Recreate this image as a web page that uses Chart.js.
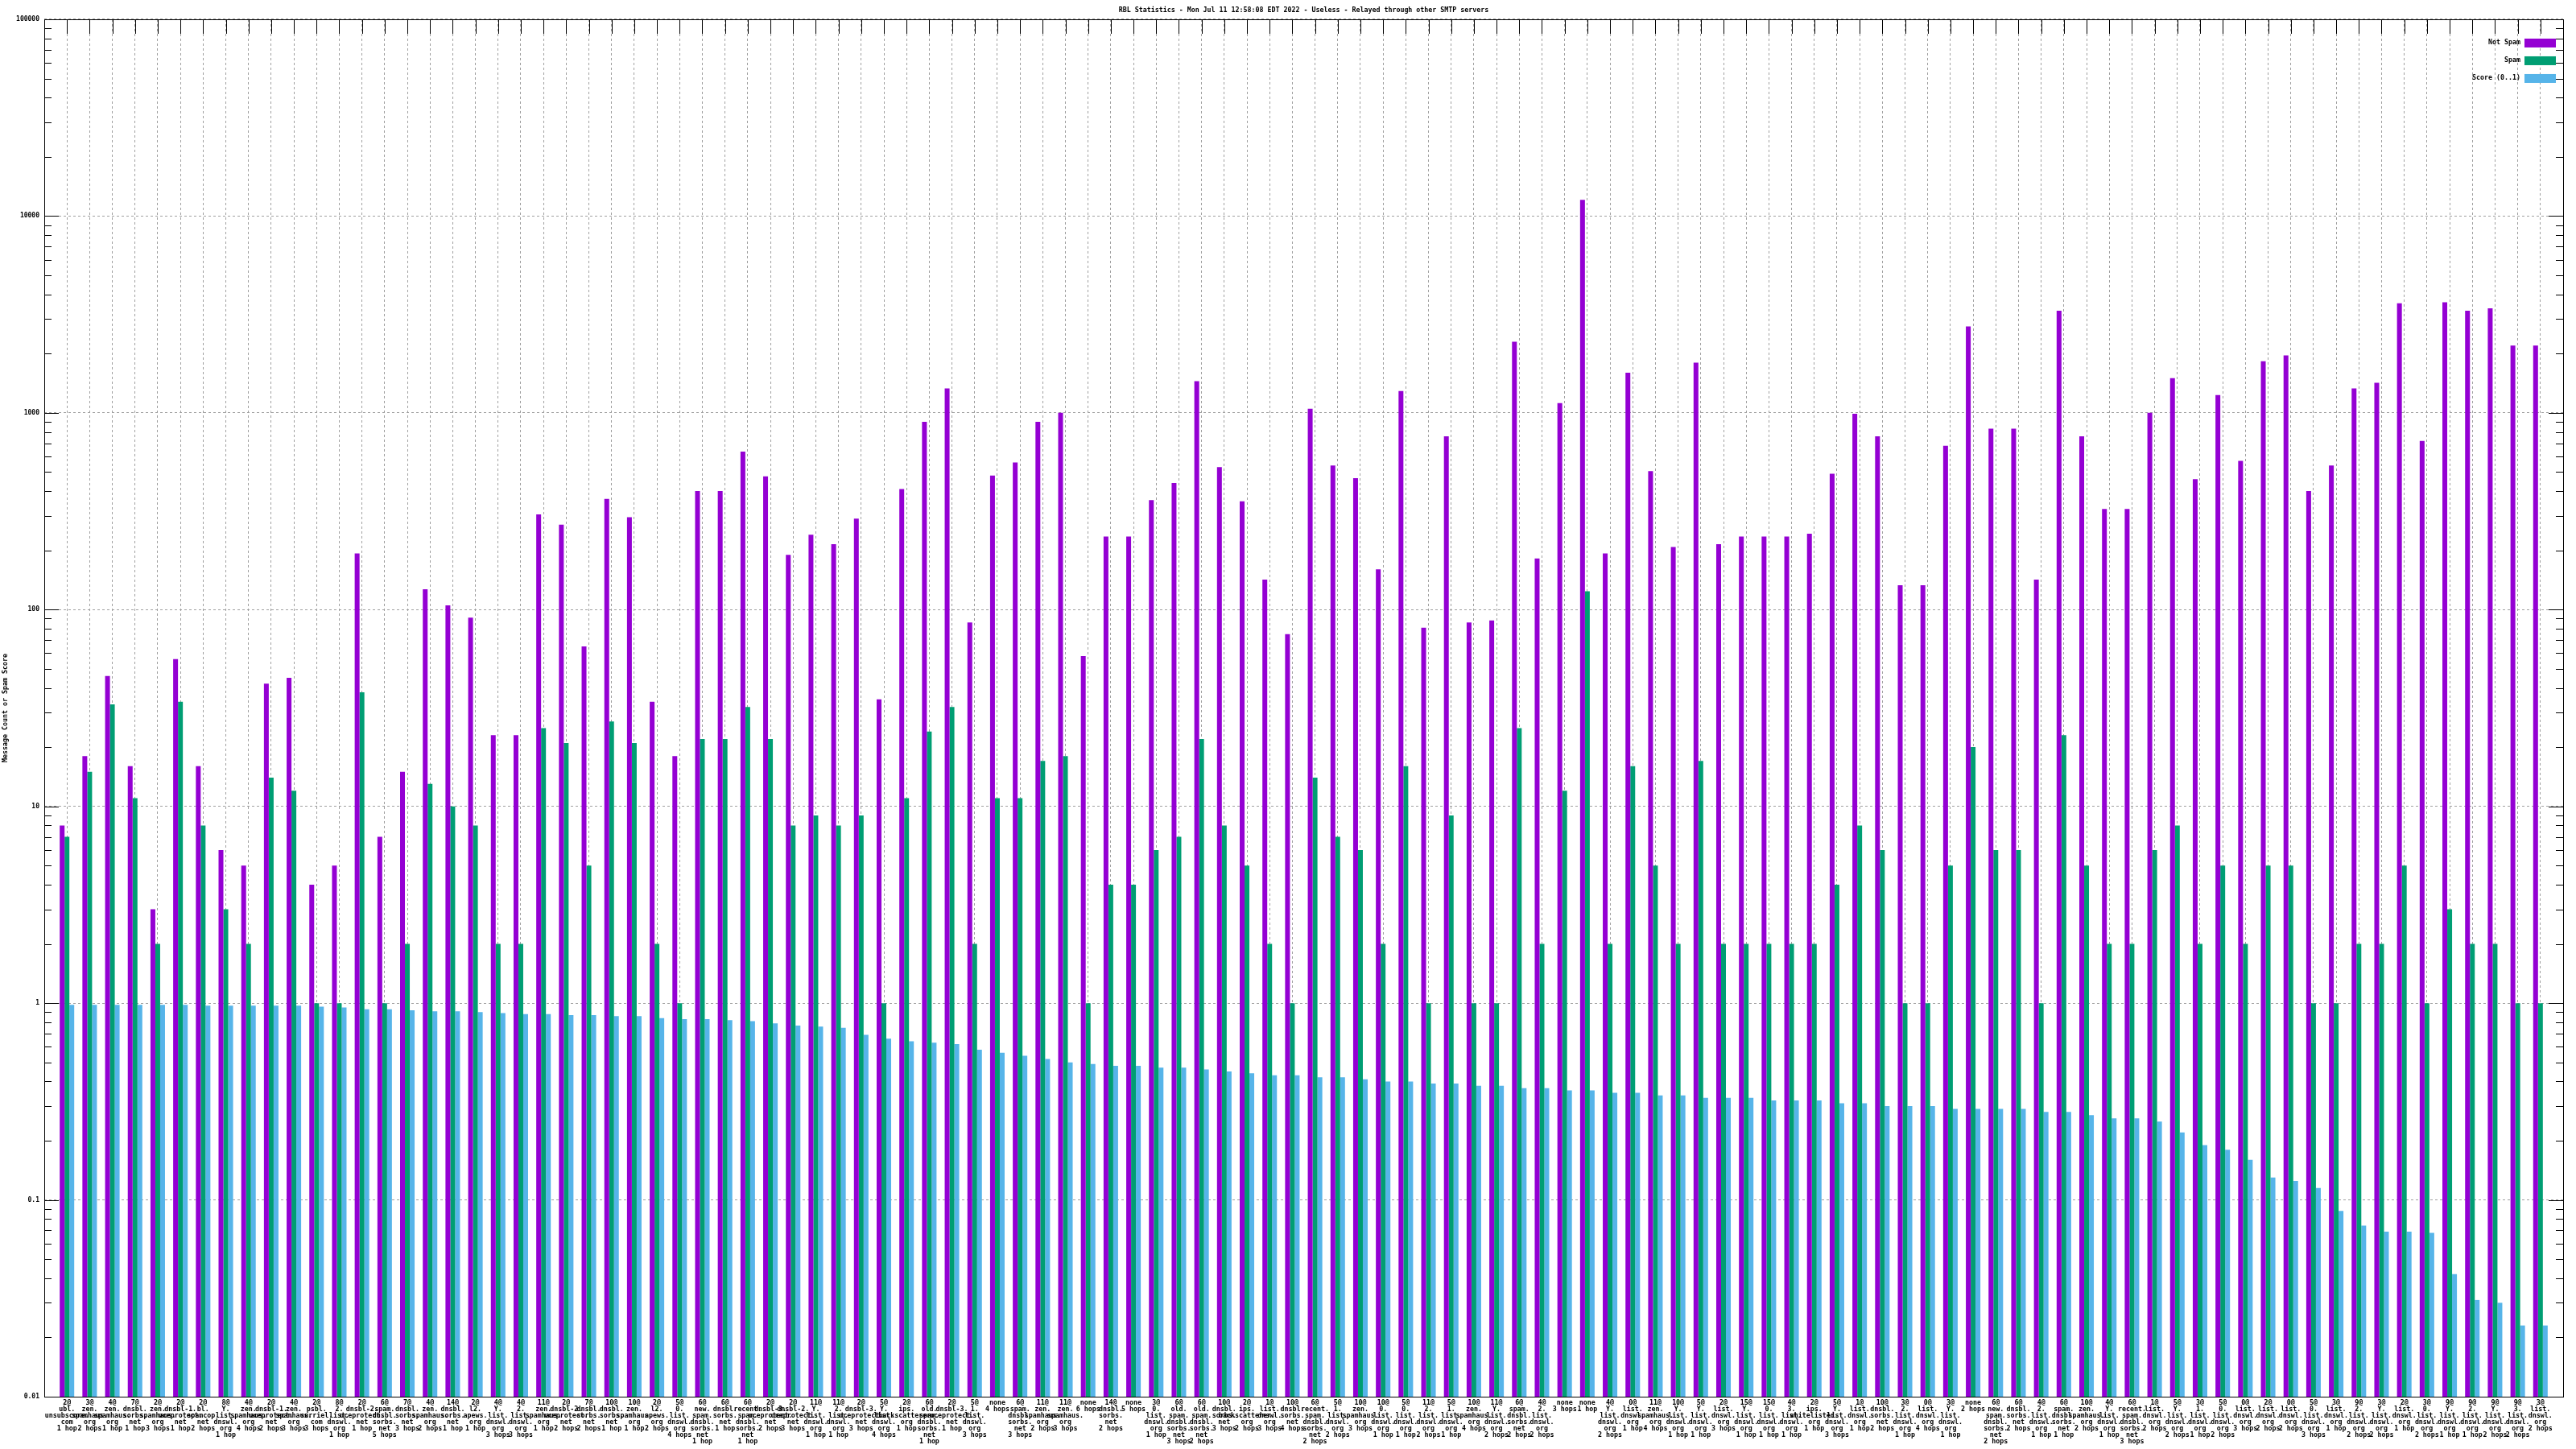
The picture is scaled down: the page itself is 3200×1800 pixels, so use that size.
<!DOCTYPE html>
<html>
<head>
<meta charset="utf-8">
<title>RBL Statistics</title>
<script src="https://cdn.jsdelivr.net/npm/chart.js@4/dist/chart.umd.min.js"></script>
<style>
  html, body { margin: 0; padding: 0; background: #fff; }
  #wrap { width: 3200px; height: 1800px; }
</style>
</head>
<body>
<div id="wrap"><canvas id="rbl-canvas" width="3200" height="1800"></canvas></div>
<script>
"use strict";

const chartTitle = "RBL Statistics - Mon Jul 11 12:58:08 EDT 2022 - Useless - Relayed through other SMTP servers";
const yAxisTitle = "Message Count or Spam Score";
const seriesNames = ["Not Spam", "Spam", "Score (0..1)"];
const seriesColors = ["#9400d3", "#009e73", "#56b4e9"];

const yTickValues = [0.01, 0.1, 1, 10, 100, 1000, 10000, 100000];
const yTickLabels = ["0.01", "0.1", "1", "10", "100", "1000", "10000", "100000"];

// one entry per cluster, lines separated by \n
const categories = [
    "2@\nubl.\nunsubscore.\ncom\n1 hop", "3@\nzen.\nspamhaus.\norg\n2 hops", "4@\nzen.\nspamhaus.\norg\n1 hop",
    "7@\ndnsbl.\nsorbs.\nnet\n1 hop", "2@\nzen.\nspamhaus.\norg\n3 hops", "2@\ndnsbl-1.\nuceprotect.\nnet\n1 hop",
    "2@\nbl.\nspamcop.\nnet\n2 hops", "8@\nY.\nlist.\ndnswl.\norg\n1 hop", "4@\nzen.\nspamhaus.\norg\n4 hops",
    "2@\ndnsbl-1.\nuceprotect.\nnet\n2 hops", "4@\nzen.\nspamhaus.\norg\n3 hops", "2@\npsbl.\nsurriel.\ncom\n3 hops",
    "8@\n2.\nlist.\ndnswl.\norg\n1 hop", "2@\ndnsbl-2.\nuceprotect.\nnet\n1 hop", "6@\nspam.\ndnsbl.\nsorbs.\nnet\n5 hops",
    "7@\ndnsbl.\nsorbs.\nnet\n3 hops", "4@\nzen.\nspamhaus.\norg\n2 hops", "14@\ndnsbl.\nsorbs.\nnet\n1 hop",
    "2@\nl2.\napews.\norg\n1 hop", "4@\nY.\nlist.\ndnswl.\norg\n3 hops", "4@\n2.\nlist.\ndnswl.\norg\n3 hops",
    "11@\nzen.\nspamhaus.\norg\n1 hop", "2@\ndnsbl-2.\nuceprotect.\nnet\n2 hops", "7@\ndnsbl.\nsorbs.\nnet\n2 hops",
    "10@\ndnsbl.\nsorbs.\nnet\n1 hop", "10@\nzen.\nspamhaus.\norg\n1 hop", "2@\nl2.\napews.\norg\n2 hops",
    "5@\n0.\nlist.\ndnswl.\norg\n4 hops", "6@\nnew.\nspam.\ndnsbl.\nsorbs.\nnet\n1 hop", "6@\ndnsbl.\nsorbs.\nnet\n1 hop",
    "6@\nrecent.\nspam.\ndnsbl.\nsorbs.\nnet\n1 hop", "2@\ndnsbl-3.\nuceprotect.\nnet\n2 hops", "2@\ndnsbl-2.\nuceprotect.\nnet\n3 hops",
    "11@\nY.\nlist.\ndnswl.\norg\n1 hop", "11@\n2.\nlist.\ndnswl.\norg\n1 hop", "2@\ndnsbl-3.\nuceprotect.\nnet\n3 hops",
    "5@\nY.\nlist.\ndnswl.\norg\n4 hops", "2@\nips.\nbackscatterer.\norg\n1 hop", "6@\nold.\nspam.\ndnsbl.\nsorbs.\nnet\n1 hop",
    "2@\ndnsbl-3.\nuceprotect.\nnet\n1 hop", "5@\n1.\nlist.\ndnswl.\norg\n3 hops", "none\n4 hops",
    "6@\nspam.\ndnsbl.\nsorbs.\nnet\n3 hops", "11@\nzen.\nspamhaus.\norg\n2 hops", "11@\nzen.\nspamhaus.\norg\n3 hops",
    "none\n6 hops", "14@\ndnsbl.\nsorbs.\nnet\n2 hops", "none\n5 hops",
    "3@\n0.\nlist.\ndnswl.\norg\n1 hop", "6@\nold.\nspam.\ndnsbl.\nsorbs.\nnet\n3 hops", "6@\nold.\nspam.\ndnsbl.\nsorbs.\nnet\n2 hops",
    "10@\ndnsbl.\nsorbs.\nnet\n3 hops", "2@\nips.\nbackscatterer.\norg\n2 hops", "1@\nlist.\ndnswl.\norg\n3 hops",
    "10@\ndnsbl.\nsorbs.\nnet\n4 hops", "6@\nrecent.\nspam.\ndnsbl.\nsorbs.\nnet\n2 hops", "5@\n1.\nlist.\ndnswl.\norg\n2 hops",
    "10@\nzen.\nspamhaus.\norg\n3 hops", "10@\n0.\nlist.\ndnswl.\norg\n1 hop", "5@\n0.\nlist.\ndnswl.\norg\n1 hop",
    "11@\n2.\nlist.\ndnswl.\norg\n2 hops", "5@\n1.\nlist.\ndnswl.\norg\n1 hop", "10@\nzen.\nspamhaus.\norg\n4 hops",
    "11@\nY.\nlist.\ndnswl.\norg\n2 hops", "6@\nspam.\ndnsbl.\nsorbs.\nnet\n2 hops", "4@\n2.\nlist.\ndnswl.\norg\n2 hops",
    "none\n3 hops", "none\n1 hop", "4@\nY.\nlist.\ndnswl.\norg\n2 hops",
    "0@\nlist.\ndnswl.\norg\n1 hop", "11@\nzen.\nspamhaus.\norg\n4 hops", "10@\nY.\nlist.\ndnswl.\norg\n1 hop",
    "5@\nY.\nlist.\ndnswl.\norg\n1 hop", "2@\nlist.\ndnswl.\norg\n3 hops", "15@\nY.\nlist.\ndnswl.\norg\n1 hop",
    "15@\n0.\nlist.\ndnswl.\norg\n1 hop", "4@\n3.\nlist.\ndnswl.\norg\n1 hop", "2@\nips.\nwhitelisted.\norg\n1 hop",
    "5@\nY.\nlist.\ndnswl.\norg\n3 hops", "1@\nlist.\ndnswl.\norg\n1 hop", "10@\ndnsbl.\nsorbs.\nnet\n2 hops",
    "3@\n2.\nlist.\ndnswl.\norg\n1 hop", "0@\nlist.\ndnswl.\norg\n4 hops", "3@\nY.\nlist.\ndnswl.\norg\n1 hop",
    "none\n2 hops", "6@\nnew.\nspam.\ndnsbl.\nsorbs.\nnet\n2 hops", "6@\ndnsbl.\nsorbs.\nnet\n2 hops",
    "4@\n2.\nlist.\ndnswl.\norg\n1 hop", "6@\nspam.\ndnsbl.\nsorbs.\nnet\n1 hop", "10@\nzen.\nspamhaus.\norg\n2 hops",
    "4@\nY.\nlist.\ndnswl.\norg\n1 hop", "6@\nrecent.\nspam.\ndnsbl.\nsorbs.\nnet\n3 hops", "1@\nlist.\ndnswl.\norg\n2 hops",
    "5@\nY.\nlist.\ndnswl.\norg\n2 hops", "3@\n1.\nlist.\ndnswl.\norg\n1 hop", "5@\n0.\nlist.\ndnswl.\norg\n2 hops",
    "0@\nlist.\ndnswl.\norg\n3 hops", "2@\nlist.\ndnswl.\norg\n2 hops", "0@\nlist.\ndnswl.\norg\n2 hops",
    "5@\n0.\nlist.\ndnswl.\norg\n3 hops", "3@\nlist.\ndnswl.\norg\n1 hop", "9@\n2.\nlist.\ndnswl.\norg\n2 hops",
    "3@\nY.\nlist.\ndnswl.\norg\n2 hops", "2@\nlist.\ndnswl.\norg\n1 hop", "3@\n0.\nlist.\ndnswl.\norg\n2 hops",
    "9@\nY.\nlist.\ndnswl.\norg\n1 hop", "9@\n2.\nlist.\ndnswl.\norg\n1 hop", "9@\nY.\nlist.\ndnswl.\norg\n2 hops",
    "9@\n3.\nlist.\ndnswl.\norg\n2 hops", "3@\nlist.\ndnswl.\norg\n2 hops"
];

const notSpam = [
    8, 18, 46, 16, 3, 56, 16, 6, 5, 42, 45, 4, 5, 193, 7, 15, 127, 105, 91, 23,
    23, 305, 270, 65, 365, 295, 34, 18, 400, 400, 635, 475, 190, 240, 215, 290, 35, 410, 900, 1330,
    86, 480, 560, 900, 1000, 58, 235, 235, 360, 440, 1450, 530, 355, 142, 75, 1050, 540, 465, 160, 1290,
    81, 760, 86, 88, 2300, 182, 1120, 12100, 193, 1600, 505, 208, 1800, 215, 235, 235, 235, 243, 490, 990,
    760, 133, 133, 680, 2750, 830, 830, 142, 3300, 760, 325, 325, 1000, 1500, 460, 1230, 570, 1830, 1960, 400,
    540, 1330, 1420, 3600, 720, 3650, 3300, 3400, 2200, 2200
];

const spam = [
    7, 15, 33, 11, 2, 34, 8, 3, 2, 14, 12, 1, 1, 38, 1, 2, 13, 10, 8, 2,
    2, 25, 21, 5, 27, 21, 2, 1, 22, 22, 32, 22, 8, 9, 8, 9, 1, 11, 24, 32,
    2, 11, 11, 17, 18, 1, 4, 4, 6, 7, 22, 8, 5, 2, 1, 14, 7, 6, 2, 16,
    1, 9, 1, 1, 25, 2, 12, 124, 2, 16, 5, 2, 17, 2, 2, 2, 2, 2, 4, 8,
    6, 1, 1, 5, 20, 6, 6, 1, 23, 5, 2, 2, 6, 8, 2, 5, 2, 5, 5, 1,
    1, 2, 2, 5, 1, 3, 2, 2, 1, 1
];

const score = [
    0.98, 0.98, 0.98, 0.98, 0.98, 0.98, 0.97, 0.97, 0.97, 0.97, 0.97, 0.96, 0.95, 0.93, 0.93, 0.92, 0.91, 0.91, 0.90, 0.89,
    0.88, 0.88, 0.87, 0.87, 0.86, 0.86, 0.84, 0.83, 0.83, 0.82, 0.81, 0.79, 0.77, 0.76, 0.75, 0.69, 0.66, 0.64, 0.63, 0.62,
    0.58, 0.56, 0.54, 0.52, 0.50, 0.49, 0.48, 0.48, 0.47, 0.47, 0.46, 0.45, 0.44, 0.43, 0.43, 0.42, 0.42, 0.41, 0.40, 0.40,
    0.39, 0.39, 0.38, 0.38, 0.37, 0.37, 0.36, 0.36, 0.35, 0.35, 0.34, 0.34, 0.33, 0.33, 0.33, 0.32, 0.32, 0.32, 0.31, 0.31,
    0.30, 0.30, 0.30, 0.29, 0.29, 0.29, 0.29, 0.28, 0.28, 0.27, 0.26, 0.26, 0.25, 0.22, 0.19, 0.18, 0.16, 0.13, 0.125, 0.115,
    0.088, 0.074, 0.069, 0.069, 0.068, 0.042, 0.031, 0.030, 0.023, 0.023
];

const FONT = "'DejaVu Sans Mono', monospace";

// gnuplot-ish frame: border, inward tics, legend inside the top right corner
const gnuplotFrame = {
    id: "gnuplotFrame",
    beforeDatasetsDraw(chart) {
        const {ctx, chartArea: a, scales: {x, y}} = chart;
        ctx.save();
        ctx.strokeStyle = "#000";
        ctx.lineWidth = 1;
        ctx.beginPath();
        x.ticks.forEach(t => {
            const px = Math.round(x.getPixelForValue(t.value)) + 0.5;
            ctx.moveTo(px, a.top); ctx.lineTo(px, a.top + 18);
            ctx.moveTo(px, a.bottom); ctx.lineTo(px, a.bottom - 18);
        });
        for (let e = -2; e <= 5; e++) {
            for (let m = 1; m <= 9; m++) {
                const v = m * Math.pow(10, e);
                if (v > 100000) break;
                const py = Math.round(y.getPixelForValue(v)) + 0.5;
                const len = m === 1 ? 18 : 9;
                ctx.moveTo(a.left, py); ctx.lineTo(a.left + len, py);
                ctx.moveTo(a.right, py); ctx.lineTo(a.right - len, py);
            }
        }
        ctx.stroke();
        ctx.restore();
    },
    afterDraw(chart) {
        const {ctx, chartArea: a} = chart;
        ctx.save();
        ctx.strokeStyle = "#000";
        ctx.lineWidth = 1;
        ctx.strokeRect(Math.round(a.left) + 0.5, Math.round(a.top) + 0.5,
            Math.round(a.right - a.left), Math.round(a.bottom - a.top));

        ctx.font = "bold 8.3px " + FONT;
        ctx.textAlign = "right";
        ctx.textBaseline = "middle";
        chart.data.datasets.forEach((ds, i) => {
            const cy = a.top + 29 + i * 22;
            ctx.fillStyle = "#000";
            ctx.fillText(ds.label, a.right - 53, cy);
            ctx.fillStyle = ds.backgroundColor;
            ctx.fillRect(a.right - 48, cy - 5, 39, 11);
        });
        ctx.restore();
    }
};

const values = [notSpam, spam, score];
const datasets = seriesNames.map((name, i) => ({
    label: name,
    data: values[i].map((v, k) => ({x: k, y: v})),
    backgroundColor: seriesColors[i],
    borderWidth: 0,
    categoryPercentage: 0.64,
    barPercentage: 1.0
}));

new Chart(document.getElementById("rbl-canvas").getContext("2d"), {
    type: "bar",
    data: {datasets: datasets},
    plugins: [gnuplotFrame],
    options: {
        responsive: false,
        animation: false,
        devicePixelRatio: 1,
        layout: {padding: {left: 0, right: 16, top: 0, bottom: 0}},
        plugins: {
            legend: {display: false},
            tooltip: {enabled: false},
            title: {
                display: true,
                text: chartTitle,
                fullSize: false,
                color: "#000",
                font: {family: FONT, size: 8.3, weight: "bold"},
                padding: {top: 8, bottom: 6}
            }
        },
        scales: {
            x: {
                type: "linear",
                min: -1,
                max: categories.length,
                offset: false,
                afterFit: scale => { scale.height = 65; },
                afterBuildTicks: scale => { scale.ticks = categories.map((_, i) => ({value: i})); },
                grid: {color: "#a0a0a0", lineWidth: 1, drawTicks: false, offset: false},
                border: {display: false, dash: [3, 3]},
                ticks: {
                    autoSkip: false,
                    maxRotation: 0,
                    minRotation: 0,
                    padding: 4,
                    color: "#000",
                    font: {family: FONT, size: 8.3, weight: "bold", lineHeight: 0.965},
                    callback: v => categories[v] !== undefined ? categories[v].split("\n") : ""
                }
            },
            y: {
                type: "logarithmic",
                min: 0.01,
                max: 100000,
                afterFit: scale => { scale.width = 55; },
                afterBuildTicks: scale => { scale.ticks = yTickValues.map(v => ({value: v})); },
                grid: {color: "#a0a0a0", lineWidth: 1, drawTicks: false},
                border: {display: false, dash: [3, 3]},
                title: {
                    display: true,
                    text: yAxisTitle,
                    color: "#000",
                    font: {family: FONT, size: 8.3, weight: "bold"},
                    padding: {top: 2, bottom: 0}
                },
                ticks: {
                    padding: 6,
                    color: "#000",
                    font: {family: FONT, size: 8, weight: "bold"},
                    callback: v => {
                        const k = yTickValues.indexOf(v);
                        return k >= 0 ? yTickLabels[k] : "";
                    }
                }
            }
        }
    }
});
</script>
</body>
</html>
